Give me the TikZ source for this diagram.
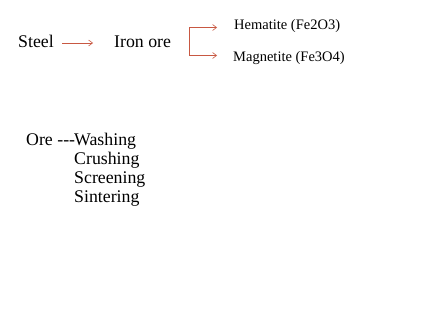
\documentclass[tikz,border=0pt]{standalone}
\usepackage{fontspec}
\setmainfont{Liberation Serif}
\usetikzlibrary{arrows,arrows.meta}
\definecolor{arrowred}{RGB}{200,88,66}
\begin{document}
\begin{tikzpicture}[x=1pt,y=-1pt,
obj/.style={font=\fontsize{17.8}{20}\selectfont,anchor=base west,inner sep=0pt},
ore/.style={font=\fontsize{14.5}{16}\selectfont,anchor=base west,inner sep=0pt},
arrow/.style={-{Straight Barb[length=4pt,width=6pt]},line width=0.6pt,draw=arrowred} ]

\useasboundingbox (0,0) rectangle (444,313);

\node[obj](steel) at (18,48) {Steel};
\node[obj](iron) at (114,48) {Iron ore};

\node[ore](hem) at (234,30) {Hematite (Fe2O3)};
\node[ore](mag) at (233,62) {Magnetite (Fe3O4)};

\coordinate (top) at (189,27.5);
\coordinate (bot) at (189,55.5);

\draw[arrow] (62,43) -- (93,43);

\draw[line width=0.6pt,draw=arrowred] (top) -- (bot);
\draw[arrow] (top) -- (217,27.5);
\draw[arrow] (bot) -- (217,55.5);

\node[obj](ore) at (26,145) {Ore {-}{-}{-}};
\node[obj](wash) at (74,145) {Washing};
\node[obj](crush) at (74,164) {Crushing};
\node[obj](screen) at (74,183) {Screening};
\node[obj](sinter) at (74,202) {Sintering};
\end{tikzpicture}
\end{document}
